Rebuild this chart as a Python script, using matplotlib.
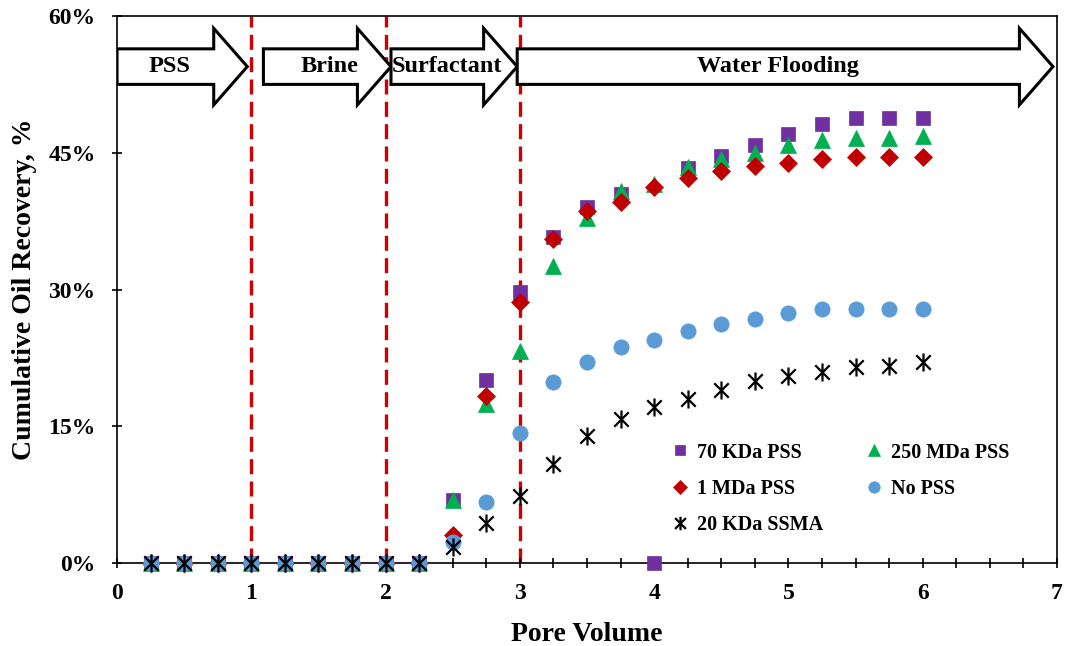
import numpy as np
import matplotlib
matplotlib.use("Agg")
import matplotlib.pyplot as plt
from matplotlib.patches import FancyArrow
from matplotlib.path import Path
from matplotlib.ticker import MultipleLocator, FuncFormatter

plt.rcParams["font.family"] = ["Liberation Serif", "DejaVu Serif"]
plt.rcParams["font.weight"] = "bold"

# pore volumes injected
pore_volume = [0.25, 0.5, 0.75, 1.0, 1.25, 1.5, 1.75, 2.0, 2.25,
               2.5, 2.75, 3.0, 3.25, 3.5, 3.75, 4.0, 4.25, 4.5, 4.75,
               5.0, 5.25, 5.5, 5.75, 6.0]

# cumulative oil recovery, %
pss_70kda = [0, 0, 0, 0, 0, 0, 0, 0, 0,
             6.9, 20.1, 29.7, 35.8, 39.0, 40.5, 0.0, 43.3, 44.6, 45.9,
             47.1, 48.2, 48.8, 48.8, 48.8]
pss_250mda = [0, 0, 0, 0, 0, 0, 0, 0, 0,
              6.9, 17.4, 23.2, 32.6, 37.8, 40.8, 41.6, 43.4, 44.3, 45.0,
              45.8, 46.4, 46.6, 46.6, 46.8]
pss_1mda = [0, 0, 0, 0, 0, 0, 0, 0, 0,
            3.1, 18.3, 28.6, 35.5, 38.6, 39.6, 41.2, 42.2, 43.0, 43.6,
            43.9, 44.3, 44.5, 44.5, 44.5]
no_pss = [0, 0, 0, 0, 0, 0, 0, 0, 0,
          2.3, 6.7, 14.3, 19.9, 22.1, 23.7, 24.5, 25.4, 26.2, 26.8,
          27.4, 27.9, 27.9, 27.9, 27.9]
ssma_20kda = [0, 0, 0, 0, 0, 0, 0, 0, 0,
              1.8, 4.4, 7.4, 10.9, 13.9, 15.8, 17.1, 18.0, 19.0, 20.0,
              20.5, 20.9, 21.5, 21.6, 22.0]

# injection stages
stage_names = ["PSS", "Brine", "Surfactant", "Water Flooding"]
stage_start = [0.0, 1.09, 2.04, 2.98]
stage_end = [0.97, 2.04, 2.98, 6.97]
stage_label_x = [0.39, 1.58, 2.46, 4.92]
stage_bounds = [1, 2, 3]

# excel-style asterisk: an X with a vertical bar
asterisk = Path(
    [(-1, -1), (1, 1), (-1, 1), (1, -1), (0, -1.25), (0, 1.25)],
    [Path.MOVETO, Path.LINETO, Path.MOVETO, Path.LINETO, Path.MOVETO, Path.LINETO],
)

fig = plt.figure(figsize=(10.65, 6.46), dpi=100)
ax = fig.add_axes([0.1099, 0.1285, 0.8826, 0.8467])

series = [
    ("70 KDa PSS", pss_70kda, dict(marker="s", color="#7030A0", ms=10)),
    ("250 MDa PSS", pss_250mda, dict(marker="^", color="#00B050", ms=11)),
    ("1 MDa PSS", pss_1mda, dict(marker="D", color="#C00000", ms=9)),
    ("No PSS", no_pss, dict(marker="o", color="#5B9BD5", ms=11)),
]
handles = {}
for name, vals, kw in series:
    h, = ax.plot(pore_volume, vals, linestyle="none", marker=kw["marker"],
                 ms=kw["ms"], mfc=kw["color"], mec=kw["color"], mew=0.5,
                 label=name, clip_on=False, zorder=3)
    handles[name] = h
h, = ax.plot(pore_volume, ssma_20kda, linestyle="none", marker=asterisk,
             ms=13, mfc="none", mec="black", mew=1.6, label="20 KDa SSMA",
             clip_on=False, zorder=3)
handles["20 KDa SSMA"] = h

for xb in stage_bounds:
    ax.axvline(xb, color="#D00000", lw=2.4, linestyle=(0, (4.5, 2.2)), zorder=1)

for name, x0, x1, tx in zip(stage_names, stage_start, stage_end, stage_label_x):
    arr = FancyArrow(x0, 54.45, x1 - x0, 0, width=3.9, head_width=8.4,
                     head_length=0.25, length_includes_head=True,
                     facecolor="white", edgecolor="black", lw=2.2, zorder=4)
    ax.add_patch(arr)
    ax.text(tx, 54.45, name, ha="center", va="center", fontsize=17.5,
            fontweight="bold", zorder=5)

ax.set_xlim(0, 7)
ax.set_ylim(0, 60)
ax.xaxis.set_major_locator(MultipleLocator(1))
ax.xaxis.set_minor_locator(MultipleLocator(0.25))
ax.yaxis.set_major_locator(MultipleLocator(15))
ax.yaxis.set_major_formatter(FuncFormatter(lambda v, p: f"{v:.0f}%"))
ax.tick_params(axis="x", which="both", direction="inout", length=7, width=1.2,
               labelsize=17, pad=11)
ax.tick_params(axis="y", which="both", direction="inout", length=7, width=1.2,
               labelsize=17, pad=12)
for sp in ax.spines.values():
    sp.set_linewidth(1.2)

ax.set_xlabel("Pore Volume", fontsize=20, fontweight="bold", labelpad=13)
ax.set_ylabel("Cumulative Oil Recovery, %", fontsize=20, fontweight="bold",
              labelpad=8)

order = ["70 KDa PSS", "1 MDa PSS", "20 KDa SSMA", "250 MDa PSS", "No PSS"]
ax.legend([handles[k] for k in order], order, ncol=2, frameon=False,
          loc="upper left", bbox_to_anchor=(0.583, 0.235), fontsize=14.5,
          markerscale=0.75, handlelength=0.7, handletextpad=0.5,
          columnspacing=2.15, labelspacing=0.8, borderaxespad=0)

fig.savefig("out.png", dpi=100)
